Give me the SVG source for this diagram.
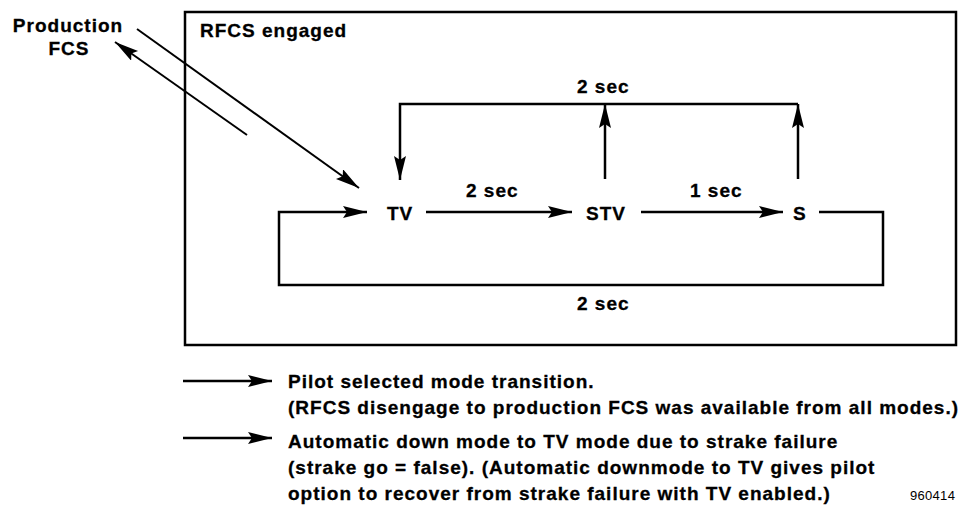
<svg xmlns="http://www.w3.org/2000/svg" width="974" height="529" viewBox="0 0 974 529">
<style>
text{font-family:"Liberation Sans",Arial,sans-serif;font-weight:bold;font-size:19px;letter-spacing:1px;fill:#000;stroke:#000;stroke-width:0.3}
.ln{fill:none;stroke:#000;stroke-width:2.5}
.thin{fill:none;stroke:#000;stroke-width:2}
.id{font-weight:normal;font-size:13px;letter-spacing:0.3px;stroke:none}
</style>
<defs>
<marker id="ah" markerUnits="userSpaceOnUse" markerWidth="26" markerHeight="14" refX="24" refY="6" orient="auto">
<path d="M0,0 L24,6 L0,12 L4,6 z" fill="#000"/>
</marker>
</defs>
<rect width="974" height="529" fill="#fff"/>
<g id="rfcs-engaged">
<rect x="185" y="12" width="771" height="333" fill="none" stroke="#000" stroke-width="2.5"/>
<text x="200" y="37">RFCS engaged</text>
</g>
<g id="production-fcs">
<text x="68" y="32" text-anchor="middle">Production</text>
<text x="69" y="55" text-anchor="middle">FCS</text>
</g>
<g id="node-tv"><text x="387" y="220">TV</text></g>
<g id="node-stv"><text x="586" y="220">STV</text></g>
<g id="node-s"><text x="793" y="220">S</text></g>
<g id="connectors">
<line class="thin" x1="137" y1="29" x2="359" y2="188" marker-end="url(#ah)"/>
<line class="thin" x1="247" y1="135" x2="115" y2="42" marker-end="url(#ah)"/>
<path class="ln" d="M426,212 H572" marker-end="url(#ah)"/>
<path class="ln" d="M641,212 H783" marker-end="url(#ah)"/>
<path class="ln" d="M819,212 H883 V285 H279 V212 H367" marker-end="url(#ah)"/>
<path class="ln" d="M605,179 V104" marker-end="url(#ah)"/>
<path class="ln" d="M798,179 V104" marker-end="url(#ah)"/>
<path class="ln" d="M798,104 H400 V180" marker-end="url(#ah)"/>
</g>
<g id="labels">
<text x="577" y="93">2 sec</text>
<text x="466" y="197">2 sec</text>
<text x="690" y="197">1 sec</text>
<text x="577" y="310">2 sec</text>
</g>
<g id="legend">
<path class="ln" d="M183,381 H272" marker-end="url(#ah)"/>
<path class="ln" d="M183,438 H272" marker-end="url(#ah)"/>
<text x="288" y="388">Pilot selected mode transition.</text>
<text x="288" y="414">(RFCS disengage to production FCS was available from all modes.)</text>
<text x="288" y="448">Automatic down mode to TV mode due to strake failure</text>
<text x="288" y="474">(strake go = false). (Automatic downmode to TV gives pilot</text>
<text x="288" y="500">option to recover from strake failure with TV enabled.)</text>
<text class="id" x="910" y="500">960414</text>
</g>
</svg>
